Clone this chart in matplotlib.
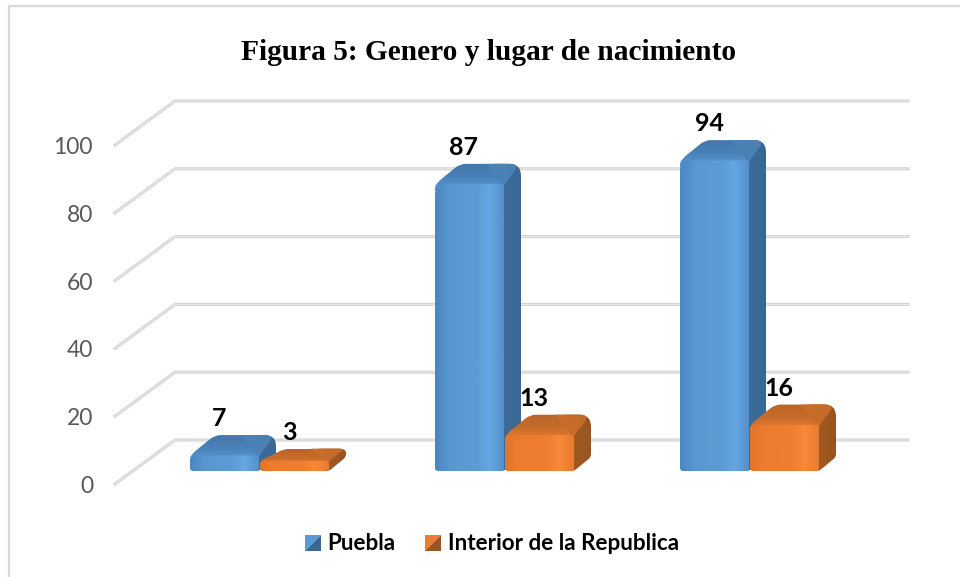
import numpy as np
import matplotlib
matplotlib.use('Agg')
import matplotlib.pyplot as plt
from matplotlib.colors import LinearSegmentedColormap
from matplotlib.legend_handler import HandlerBase
from matplotlib.patches import PathPatch, Patch, Polygon
from matplotlib.path import Path

title = 'Figura 5: Genero y lugar de nacimiento'
series_names = ['Puebla', 'Interior de la Republica']
puebla = [7, 87, 94]
interior = [3, 13, 16]
y_ticks = [0, 20, 40, 60, 80, 100]

# pixels of the picture per data unit
PX_X = 245.0
PX_Y = 3.39
X0 = 259.0
Y0 = 471.0

# 3d look of the chart
BACK_DX, BACK_DY = 60 / PX_X, 44 / PX_Y
FRONT_DY = -13 / PX_Y
BAR_W = 69 / PX_X
SIDE = 17 / PX_X
INSET = 25 / PX_X

BLUE = {'front': ['#4a86c2', '#5796d2', '#5b9bd5', '#5b9bd5', '#64a8e6', '#5590ca'],
        'top': ['#4476a8', '#4a82ba', '#5a9ad6'], 'facet': ['#4c84b8', '#4a80b2'],
        'side': ['#3f6f9e', '#3a6792'], 'key': ['#5b9bd5', '#3a6792']}
ORANGE = {'front': ['#e2752c', '#ec7c30', '#ed7d31', '#ed7d31', '#f88a38', '#e87b30'],
          'top': ['#b9652a', '#c96c2b', '#f0802f'], 'facet': ['#c96e2c', '#c46a2a'],
          'side': ['#a65c22', '#99541e'], 'key': ['#ed7d31', '#995520']}


def rounded(pts, r):
    # polygon with its corners cut by curves, r is a list of radii in pixels
    pts = [np.array(p, dtype=float) for p in pts]
    scale = np.array([PX_X, PX_Y])
    verts, codes = [], []
    n = len(pts)
    for i in range(n):
        p, prev, nxt = pts[i], pts[i - 1], pts[(i + 1) % n]
        d1 = np.hypot(*((prev - p) * scale))
        d2 = np.hypot(*((nxt - p) * scale))
        a = p + (prev - p) * min(r[i] / d1, 0.5)
        b = p + (nxt - p) * min(r[i] / d2, 0.5)
        verts += [a, p, b]
        codes += [Path.MOVETO if i == 0 else Path.LINETO, Path.CURVE3, Path.CURVE3]
    verts.append(verts[0])
    codes.append(Path.CLOSEPOLY)
    return Path(verts, codes)


def shade(ax, path, colors, vertical, z):
    # fills a path with a gradient, the image is clipped to the path
    cmap = LinearSegmentedColormap.from_list('c', colors)
    g = np.linspace(0, 1, 64)
    g = g[:, None] if vertical else g[None, :]
    box = path.get_extents()
    im = ax.imshow(g, cmap=cmap, aspect='auto', zorder=z, origin='lower',
                   extent=[box.x0, box.x1, box.y0, box.y1], interpolation='bilinear')
    im.set_clip_path(PathPatch(path, transform=ax.transData))


def draw_bar(ax, left, value, style, z):
    right = left + BAR_W
    front_top = max(value - 2.4, 3)
    back_top = value + 3.6
    rise = 14 / PX_Y
    under = 10 / PX_X
    r_back = min(12, (back_top - front_top) * PX_Y * 0.6)
    r_front = min(10, front_top * PX_Y * 0.5)

    # side face runs under the front so no white seam is left
    side = rounded([(right - under, 0), (right, 0), (right + SIDE, rise), (right + SIDE, back_top),
                    (right - under, back_top)], [0.1, 3, 3, r_back, 0.1])
    shade(ax, side, style['side'], False, z)

    # top face, same corners as the side at the back
    top = rounded([(left, front_top - 2), (left, front_top), (left + INSET, back_top),
                   (right + SIDE, back_top), (right, front_top), (right, front_top - 2)],
                  [0.1, r_front, 6, r_back, 2, 0.1])
    shade(ax, top, style['top'][::-1], True, z + 0.1)

    # lighter facet on the right of the top face
    facet = rounded([(right - 2 / PX_X, front_top), (right - 18 / PX_X, back_top),
                     (right + SIDE, back_top)], [0.1, 0.1, r_back])
    shade(ax, facet, style['facet'], False, z + 0.15)

    front = rounded([(left, 0), (left, front_top), (right, front_top), (right, 0)],
                    [3, r_front, 5, 3])
    shade(ax, front, style['front'], False, z + 0.2)

    ax.text(left + 29 / PX_X, back_top + 16.5 / PX_Y, str(value), ha='center', va='center',
            fontsize=18, fontweight='bold', family='Lato', color='black', zorder=30)


class SplitSquare(HandlerBase):
    # legend key: a square cut along its diagonal in a light and a dark half
    def create_artists(self, legend, orig, x, y, w, h, fontsize, trans):
        s = min(w, h)
        light, dark = orig.get_facecolor(), orig.get_edgecolor()
        a = Polygon([(x, y), (x, y + s), (x + s, y + s)], transform=trans, fc=light, ec='none')
        b = Polygon([(x, y), (x + s, y), (x + s, y + s)], transform=trans, fc=dark, ec='none')
        return [a, b]


fig = plt.figure(figsize=(9.6, 5.77), dpi=100)
ax = fig.add_axes([0, 0, 1, 1])
xlim = (-X0 / PX_X, (960 - X0) / PX_X)
ylim = ((Y0 - 577) / PX_Y, Y0 / PX_Y)

# frame of the picture, only left and top are visible
ax.plot([xlim[0] + 9 / PX_X, xlim[0] + 9 / PX_X, xlim[1]],
        [ylim[0], ylim[1] - 6 / PX_Y, ylim[1] - 6 / PX_Y],
        color='#d9d9d9', lw=1.6, zorder=1, solid_joinstyle='miter')

# walls and floor grid
left_front = (115 - X0) / PX_X
right_back = (908 - X0) / PX_X
for t in y_ticks:
    ax.plot([left_front, left_front + BACK_DX, right_back],
            [t + FRONT_DY, t + FRONT_DY + BACK_DY, t + FRONT_DY + BACK_DY],
            color='#d2d2d2', lw=2.2, zorder=2, solid_joinstyle='miter')
    ax.plot([left_front, left_front + BACK_DX, right_back],
            [t + FRONT_DY, t + FRONT_DY + BACK_DY, t + FRONT_DY + BACK_DY],
            color='#ececec', lw=0.7, zorder=2.1, solid_joinstyle='miter')
    ax.text((93 - X0) / PX_X, t + FRONT_DY - 2.5 / PX_Y, str(t), ha='right', va='center',
            fontsize=16.5, family='Lato', color='#595959')

for i in range(len(puebla)):
    draw_bar(ax, i - BAR_W, puebla[i], BLUE, 10 + i * 2)
    draw_bar(ax, i + 1 / PX_X, interior[i], ORANGE, 11 + i * 2)

ax.text((489 - X0) / PX_X, (Y0 - 53) / PX_Y, title, ha='center', va='center', fontsize=21.2,
        fontweight='bold', family='Liberation Serif', color='black')

handles = [Patch(facecolor=BLUE['key'][0], edgecolor=BLUE['key'][1]),
           Patch(facecolor=ORANGE['key'][0], edgecolor=ORANGE['key'][1])]
ax.legend(handles, series_names, handler_map={Patch: SplitSquare()},
          loc='center', bbox_to_anchor=(492 / 960, 1 - 544 / 577), ncol=2, frameon=False,
          prop={'family': 'Lato', 'weight': 'bold', 'size': 16.2},
          handlelength=0.7, handleheight=0.7, handletextpad=0.3, columnspacing=1.3)

ax.set_xlim(xlim)
ax.set_ylim(ylim)
ax.axis('off')
fig.savefig('out.png', dpi=100)
